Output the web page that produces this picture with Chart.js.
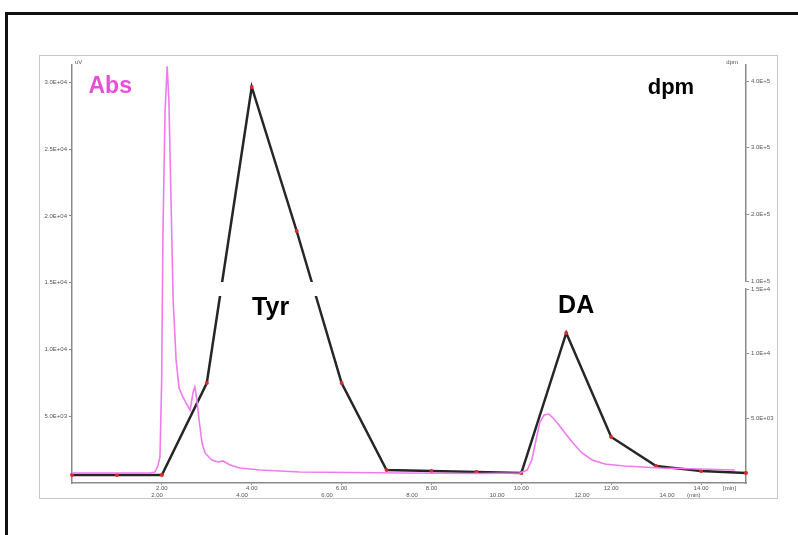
<!DOCTYPE html>
<html>
<head>
<meta charset="utf-8">
<script src="https://cdn.jsdelivr.net/npm/chart.js@4/dist/chart.umd.min.js"></script>
<style>
  html, body { margin:0; padding:0; background:#fff; width:798px; height:535px; overflow:hidden; }
  #frame { position:absolute; left:5px; top:12px; width:820px; height:560px; border:3px solid #111; box-sizing:border-box; }
  #inner { position:absolute; left:39px; top:55px; width:739px; height:444px; border:1px solid #c8c8c8; box-sizing:border-box; }
  #c { position:absolute; left:0; top:0; }
</style>
</head>
<body>
<div id="frame"></div>
<div id="inner"></div>
<canvas id="c" width="798" height="535"></canvas>
<script>
// ---- Data ----
// UV absorbance trace (time in min, signal in uV)
const absTime  = [0, 1.0, 1.84, 1.95, 2.02, 2.07, 2.11, 2.14, 2.19, 2.24, 2.28, 2.33, 2.38, 2.45, 2.52, 2.61, 2.71, 2.78, 2.85, 2.89, 2.94, 2.99, 3.06, 3.13, 3.29, 3.44, 3.55, 3.72, 3.95, 4.42, 5.36, 7.72, 9.6, 10.54, 10.71, 10.82, 10.92, 11.01, 11.11, 11.22, 11.32, 11.44, 11.6, 11.79, 12.0, 12.24, 12.54, 13.0, 13.84, 14.78, 15.6];
const absValue = [750, 750, 750, 820, 1270, 1950, 7700, 18700, 27900, 31200, 28700, 21200, 13700, 9200, 7100, 6440, 5840, 5460, 6810, 7190, 6210, 4720, 2990, 2250, 1720, 1570, 1650, 1350, 1120, 970, 820, 750, 710, 750, 970, 1720, 3220, 4570, 5090, 5160, 4870, 4420, 3740, 2990, 2250, 1720, 1420, 1270, 1120, 1050, 970];
// Radioactivity of collected fractions (time in min, dpm)
const dpmTime  = [0, 1, 2, 3, 4, 5, 6, 7, 8, 9, 10, 11, 12, 13, 14, 15];
const dpmValue = [620, 620, 620, 7730, 391000, 175000, 7730, 1000, 930, 850, 770, 11600, 3560, 1310, 930, 770];

// Tick labels
const xTickValues = [2, 4, 6, 8, 10, 12, 14];
const xTickLabels = ['2.00', '4.00', '6.00', '8.00', '10.00', '12.00', '14.00'];
const yAbsTickValues = [5000, 10000, 15000, 20000, 25000, 30000];
const yAbsTickLabels = ['5.0E+03', '1.0E+04', '1.5E+04', '2.0E+04', '2.5E+04', '3.0E+04'];
const yDpmTickValues = [5000, 10000, 15000, 100000, 200000, 300000, 400000];
const yDpmTickLabels = ['5.0E+03', '1.0E+4', '1.5E+4', '1.0E+5', '2.0E+5', '3.0E+5', '4.0E+5'];

// Peak / trace labels
const annotations = [
  { text: 'Abs', t: 0.85,  v: 29700, color: '#e94fd6', size: 23 },
  { text: 'dpm', t: 13.33, v: 29560, color: '#000000', size: 22 },
  { text: 'Tyr', t: 4.42,  v: 13100, color: '#000000', size: 25 },
  { text: 'DA',  t: 11.22, v: 13250, color: '#000000', size: 25 }
];

// Broken dpm axis: [0, lowMax] below the break, [highMin, max] above it
const dpmBreak = { lowMax: 15000, highMin: 100000, max: 424000, lowFrac: 194 / 418, gapFrac: 8 / 418 };

// ---- Broken linear scale ----
class BrokenScale extends Chart.LinearScale {
  static id = 'brokenLinear';
  static defaults = { ticks: { callback: Chart.Ticks.formatters.numeric } };
  _geom() {
    const h = this.bottom - this.top;
    const lowTop = this.bottom - h * dpmBreak.lowFrac;
    const highBottom = lowTop - h * dpmBreak.gapFrac;
    return { lowTop, highBottom };
  }
  getPixelForValue(value) {
    if (value === null || value === undefined || isNaN(value)) return NaN;
    const { lowTop, highBottom } = this._geom();
    const b = dpmBreak;
    if (value <= b.lowMax) return this.bottom - (value / b.lowMax) * (this.bottom - lowTop);
    if (value >= b.highMin) return highBottom - (value - b.highMin) / (b.max - b.highMin) * (highBottom - this.top);
    return lowTop - (value - b.lowMax) / (b.highMin - b.lowMax) * (lowTop - highBottom);
  }
  getValueForPixel(pixel) {
    const { lowTop, highBottom } = this._geom();
    const b = dpmBreak;
    if (pixel >= lowTop) return (this.bottom - pixel) / (this.bottom - lowTop) * b.lowMax;
    if (pixel <= highBottom) return b.highMin + (highBottom - pixel) / (highBottom - this.top) * (b.max - b.highMin);
    return b.lowMax + (lowTop - pixel) / (lowTop - highBottom) * (b.highMin - b.lowMax);
  }
}
Chart.register(BrokenScale);

const PINK = '#ef7bef';
const tickFont = { family: 'Liberation Sans, Arial, sans-serif', size: 6 };
const tickColor = '#555';
const axisColor = '#8a8a8a';

const annotPlugin = {
  id: 'annot',
  afterDatasetDraw(chart, args) {
    if (args.index !== 1) return;
    // break in the dpm trace where it crosses the axis break
    const { ctx, chartArea: a } = chart;
    const ys = chart.scales.yDpm;
    const y0 = ys.getPixelForValue(dpmBreak.highMin) + 1;
    const y1 = ys.getPixelForValue(dpmBreak.lowMax) + 7;
    ctx.save();
    ctx.fillStyle = '#fff';
    ctx.fillRect(a.left + 2, y0, a.right - a.left - 4, y1 - y0);
    ctx.restore();
  },
  afterDraw(chart) {
    const { ctx, chartArea: a } = chart;
    const xs = chart.scales.xDpm, xa = chart.scales.xAbs, ya = chart.scales.yAbs, ys = chart.scales.yDpm;
    ctx.save();
    // gap in the right axis line
    ctx.fillStyle = '#fff';
    const g0 = ys.getPixelForValue(dpmBreak.highMin) + 1;
    const g1 = ys.getPixelForValue(dpmBreak.lowMax) - 1;
    ctx.fillRect(ys.left - 2, g0, 4, g1 - g0);
    // big labels
    ctx.textAlign = 'center';
    ctx.textBaseline = 'middle';
    annotations.forEach(an => {
      ctx.font = 'bold ' + an.size + 'px "Liberation Sans", Arial, sans-serif';
      ctx.fillStyle = an.color;
      ctx.fillText(an.text, xs.getPixelForValue(an.t), ya.getPixelForValue(an.v));
    });
    // small unit labels
    ctx.font = '6px "Liberation Sans", Arial, sans-serif';
    ctx.fillStyle = tickColor;
    ctx.textAlign = 'left';
    ctx.fillText('uV', a.left + 3, a.top - 3);
    ctx.textAlign = 'right';
    ctx.fillText('dpm', a.right - 8, a.top - 3);
    ctx.textAlign = 'left';
    ctx.textBaseline = 'top';
    ctx.fillText('[min]', xs.getPixelForValue(14) + 22, xs.top + 2);
    ctx.fillText('(min)', xa.getPixelForValue(14) + 20, xa.top + 2);
    ctx.restore();
  }
};

new Chart(document.getElementById('c'), {
  type: 'line',
  data: {
    datasets: [
      {
        label: 'Abs',
        data: absTime.map((t, i) => ({ x: t, y: absValue[i] })),
        xAxisID: 'xAbs', yAxisID: 'yAbs',
        borderColor: PINK, borderWidth: 1.6,
        pointRadius: 0, tension: 0, order: 0, clip: 4
      },
      {
        label: 'dpm',
        data: dpmTime.map((t, i) => ({ x: t, y: dpmValue[i] })),
        xAxisID: 'xDpm', yAxisID: 'yDpm',
        borderColor: '#262626', borderWidth: 2.5,
        pointRadius: 2, pointBackgroundColor: '#e02828', pointBorderWidth: 0,
        tension: 0, order: 1, clip: 4
      }
    ]
  },
  options: {
    responsive: false,
    animation: false,
    devicePixelRatio: 1,
    layout: { padding: { left: 30, right: 12, top: 65, bottom: 37 } },
    plugins: { legend: { display: false }, tooltip: { enabled: false }, title: { display: false } },
    scales: {
      xDpm: {
        type: 'linear', position: 'bottom', min: 0, max: 15, weight: 0,
        grid: { display: true, drawOnChartArea: false, tickLength: 2, color: axisColor },
        border: { display: true, color: axisColor, width: 1.5 },
        ticks: { font: tickFont, color: tickColor, padding: 0, maxRotation: 0, autoSkip: false,
                 callback: (v) => { const i = xTickValues.indexOf(v); return i >= 0 ? xTickLabels[i] : ''; } },
        afterBuildTicks: s => { s.ticks = xTickValues.map(v => ({ value: v })); },
        afterFit: s => { s.height = 7; }
      },
      xAbs: {
        type: 'linear', position: 'bottom', min: 0, max: 15.86, weight: 1,
        grid: { display: false, drawTicks: false, tickLength: 0 },
        border: { display: false },
        ticks: { font: tickFont, color: tickColor, padding: 2, maxRotation: 0, autoSkip: false,
                 callback: (v) => { const i = xTickValues.indexOf(v); return i >= 0 ? xTickLabels[i] : ''; } },
        afterBuildTicks: s => { s.ticks = xTickValues.map(v => ({ value: v })); },
        afterFit: s => { s.height = 8; }
      },
      yAbs: {
        type: 'linear', position: 'left', min: 0, max: 31300,
        grid: { display: true, drawOnChartArea: false, tickLength: 3, color: axisColor },
        border: { display: true, color: axisColor, width: 1.5 },
        ticks: { font: tickFont, color: tickColor, padding: 2, autoSkip: false,
                 callback: (v) => { const i = yAbsTickValues.indexOf(v); return i >= 0 ? yAbsTickLabels[i] : ''; } },
        afterBuildTicks: s => { s.ticks = yAbsTickValues.map(v => ({ value: v })); },
        afterFit: s => { s.width = 42; }
      },
      yDpm: {
        type: 'brokenLinear', position: 'right', min: 0, max: dpmBreak.max,
        grid: { display: true, drawOnChartArea: false, tickLength: 3, color: axisColor },
        border: { display: true, color: axisColor, width: 1.5 },
        ticks: { font: tickFont, color: tickColor, padding: 2, autoSkip: false,
                 callback: (v) => { const i = yDpmTickValues.indexOf(v); return i >= 0 ? yDpmTickLabels[i] : ''; } },
        afterBuildTicks: s => { s.ticks = yDpmTickValues.map(v => ({ value: v })); },
        afterFit: s => { s.width = 40; }
      }
    }
  },
  plugins: [annotPlugin]
});
</script>
</body>
</html>
